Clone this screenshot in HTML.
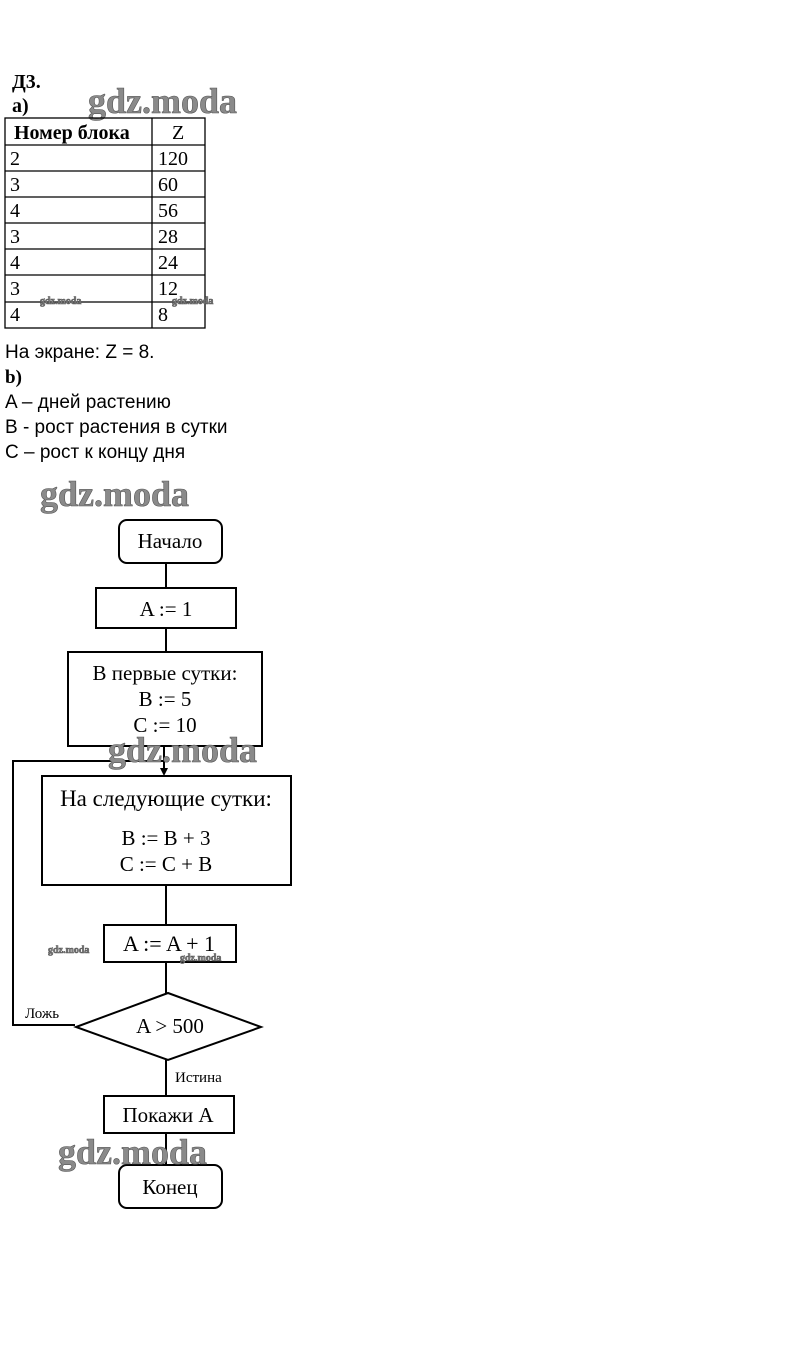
<!DOCTYPE html>
<html><head><meta charset="utf-8"><style>
body{margin:0;background:#fff;}
svg{display:block}
text{font-family:"Liberation Serif",serif;fill:#000}
.s{font-family:"Liberation Sans",sans-serif}
.wm{fill:#8a8a8a;font-weight:bold;stroke:#555;stroke-width:0.6}
</style></head><body>
<svg width="809" height="1350" viewBox="0 0 809 1350" xmlns="http://www.w3.org/2000/svg">
<g font-size="20">
<text x="12" y="88" font-weight="bold">Д3.</text>
<text x="12" y="112" font-weight="bold" fill="#666">а)</text>
</g>
<text x="88" y="113" font-size="36" class="wm">gdz.moda</text>
<g stroke="#000" stroke-width="1.3" fill="none">
<rect x="5" y="118" width="200" height="210"/>
<line x1="152" y1="118" x2="152" y2="328"/>
<line x1="5" y1="145" x2="205" y2="145"/>
<line x1="5" y1="171" x2="205" y2="171"/>
<line x1="5" y1="197" x2="205" y2="197"/>
<line x1="5" y1="223" x2="205" y2="223"/>
<line x1="5" y1="249" x2="205" y2="249"/>
<line x1="5" y1="275" x2="205" y2="275"/>
<line x1="5" y1="302" x2="205" y2="302"/>
</g>
<g font-size="20">
<text x="14" y="139" font-weight="bold" fill="#333">Номер блока</text>
<text x="172" y="139" fill="#888">Z</text>
<text x="10" y="165">2</text><text x="158" y="165" fill="#777">120</text>
<text x="10" y="191">3</text><text x="158" y="191">60</text>
<text x="10" y="217">4</text><text x="158" y="217">56</text>
<text x="10" y="243">3</text><text x="158" y="243">28</text>
<text x="10" y="269">4</text><text x="158" y="269">24</text>
<text x="10" y="295">3</text><text x="158" y="295">12</text>
<text x="10" y="321">4</text><text x="158" y="321">8</text>
</g>
<text x="40" y="304" font-size="10" class="wm" stroke-width="0.2">gdz.moda</text>
<text x="172" y="304" font-size="10" class="wm" stroke-width="0.2">gdz.moda</text>
<g font-size="19" class="s">
<text x="5" y="358" class="s">На экране: Z = 8.</text>
<text x="5" y="383" font-weight="bold">b)</text>
<text x="5" y="408" class="s">A – дней растению</text>
<text x="5" y="433" class="s">B - рост растения в сутки</text>
<text x="5" y="458" class="s">C – рост к концу дня</text>
</g>
<text x="40" y="506" font-size="36" class="wm">gdz.moda</text>
<g stroke="#000" stroke-width="2" fill="none">
<rect x="119" y="520" width="103" height="43" rx="8"/>
<line x1="166" y1="563" x2="166" y2="588"/>
<rect x="96" y="588" width="140" height="40"/>
<line x1="166" y1="628" x2="166" y2="652"/>
<rect x="68" y="652" width="194" height="94"/>
<line x1="164" y1="746" x2="164" y2="762"/>
<polyline points="75,1025 13,1025 13,761 164,761 164,770"/>
<rect x="42" y="776" width="249" height="109"/>
<line x1="166" y1="885" x2="166" y2="925"/>
<rect x="104" y="925" width="132" height="37"/>
<line x1="166" y1="962" x2="166" y2="993"/>
<polygon points="168,993 261,1027 168,1060 76,1027"/>
<line x1="166" y1="1060" x2="166" y2="1096"/>
<rect x="104" y="1096" width="130" height="37"/>
<line x1="166" y1="1133" x2="166" y2="1165"/>
<rect x="119" y="1165" width="103" height="43" rx="8"/>
</g>
<polygon points="160,768 168,768 164,776" fill="#000"/>
<g font-size="21" text-anchor="middle">
<text x="170" y="548">Начало</text>
<text x="166" y="616">A := 1</text>
<text x="165" y="680" fill="#444">В первые сутки:</text>
<text x="165" y="706">B := 5</text>
<text x="165" y="732">C := 10</text>
<text x="166" y="806" font-size="23">На следующие сутки:</text>
<text x="166" y="845">B := B + 3</text>
<text x="166" y="871">C := C + B</text>
<text x="169" y="951" font-size="22">A := A + 1</text>
<text x="170" y="1033">A &gt; 500</text>
<text x="168" y="1122">Покажи A</text>
<text x="170" y="1194" fill="#555">Конец</text>
</g>
<text x="25" y="1018" font-size="15">Ложь</text>
<text x="175" y="1082" font-size="15">Истина</text>
<text x="108" y="762" font-size="36" class="wm">gdz.moda</text>
<text x="58" y="1164" font-size="36" class="wm">gdz.moda</text>
<text x="48" y="953" font-size="10" class="wm" stroke-width="0.2">gdz.moda</text>
<text x="180" y="961" font-size="10" class="wm" stroke-width="0.2">gdz.moda</text>
</svg>
</body></html>
